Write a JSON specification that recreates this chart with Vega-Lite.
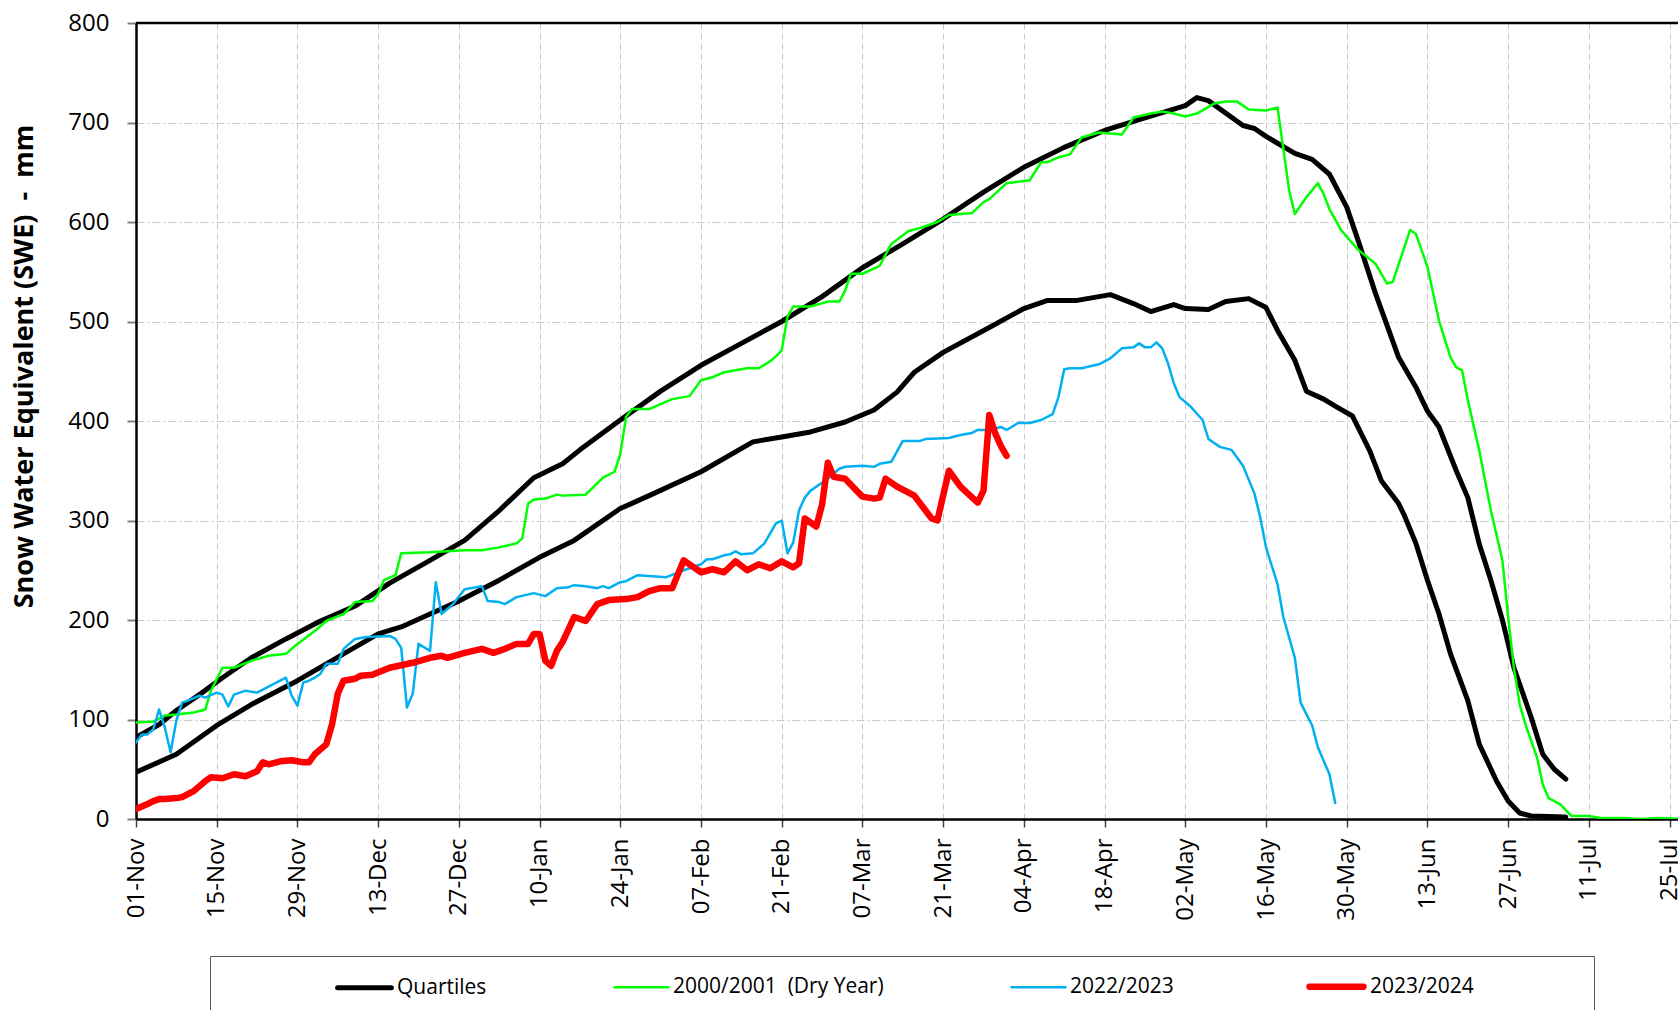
{
"$schema": "https://vega.github.io/schema/vega-lite/v6.json",
"width": 1542, "height": 796,
"autosize": {"type": "none"},
"padding": {"left": 136, "top": 23, "right": 0, "bottom": 191},
"background": "white",
"config": {"view": {"stroke": null}, "font": "Open Sans"},
"layer": [
{
"data": {"values": [
{"date":"2022-11-01","swe":82,"series":"Quartiles","line":"Upper quartile"},
{"date":"2022-11-05","swe":95,"series":"Quartiles","line":"Upper quartile"},
{"date":"2022-11-08","swe":109,"series":"Quartiles","line":"Upper quartile"},
{"date":"2022-11-12","swe":125,"series":"Quartiles","line":"Upper quartile"},
{"date":"2022-11-16","swe":142,"series":"Quartiles","line":"Upper quartile"},
{"date":"2022-11-21","swe":162,"series":"Quartiles","line":"Upper quartile"},
{"date":"2022-11-27","swe":181,"series":"Quartiles","line":"Upper quartile"},
{"date":"2022-12-03","swe":199,"series":"Quartiles","line":"Upper quartile"},
{"date":"2022-12-09","swe":214,"series":"Quartiles","line":"Upper quartile"},
{"date":"2022-12-15","swe":237,"series":"Quartiles","line":"Upper quartile"},
{"date":"2022-12-22","swe":260,"series":"Quartiles","line":"Upper quartile"},
{"date":"2022-12-28","swe":280,"series":"Quartiles","line":"Upper quartile"},
{"date":"2023-01-03","swe":310,"series":"Quartiles","line":"Upper quartile"},
{"date":"2023-01-09","swe":343,"series":"Quartiles","line":"Upper quartile"},
{"date":"2023-01-14","swe":357,"series":"Quartiles","line":"Upper quartile"},
{"date":"2023-01-17","swe":371,"series":"Quartiles","line":"Upper quartile"},
{"date":"2023-01-24","swe":401,"series":"Quartiles","line":"Upper quartile"},
{"date":"2023-01-31","swe":430,"series":"Quartiles","line":"Upper quartile"},
{"date":"2023-02-07","swe":456,"series":"Quartiles","line":"Upper quartile"},
{"date":"2023-02-14","swe":478,"series":"Quartiles","line":"Upper quartile"},
{"date":"2023-02-21","swe":500,"series":"Quartiles","line":"Upper quartile"},
{"date":"2023-02-28","swe":525,"series":"Quartiles","line":"Upper quartile"},
{"date":"2023-03-07","swe":554,"series":"Quartiles","line":"Upper quartile"},
{"date":"2023-03-14","swe":578,"series":"Quartiles","line":"Upper quartile"},
{"date":"2023-03-21","swe":603,"series":"Quartiles","line":"Upper quartile"},
{"date":"2023-03-28","swe":630,"series":"Quartiles","line":"Upper quartile"},
{"date":"2023-04-04","swe":655,"series":"Quartiles","line":"Upper quartile"},
{"date":"2023-04-11","swe":675,"series":"Quartiles","line":"Upper quartile"},
{"date":"2023-04-18","swe":692,"series":"Quartiles","line":"Upper quartile"},
{"date":"2023-04-24","swe":703,"series":"Quartiles","line":"Upper quartile"},
{"date":"2023-05-02","swe":717,"series":"Quartiles","line":"Upper quartile"},
{"date":"2023-05-04","swe":725,"series":"Quartiles","line":"Upper quartile"},
{"date":"2023-05-06","swe":722,"series":"Quartiles","line":"Upper quartile"},
{"date":"2023-05-12","swe":697,"series":"Quartiles","line":"Upper quartile"},
{"date":"2023-05-14","swe":694,"series":"Quartiles","line":"Upper quartile"},
{"date":"2023-05-16","swe":686,"series":"Quartiles","line":"Upper quartile"},
{"date":"2023-05-21","swe":669,"series":"Quartiles","line":"Upper quartile"},
{"date":"2023-05-24","swe":663,"series":"Quartiles","line":"Upper quartile"},
{"date":"2023-05-27","swe":648,"series":"Quartiles","line":"Upper quartile"},
{"date":"2023-05-30","swe":615,"series":"Quartiles","line":"Upper quartile"},
{"date":"2023-06-01","swe":581,"series":"Quartiles","line":"Upper quartile"},
{"date":"2023-06-04","swe":528,"series":"Quartiles","line":"Upper quartile"},
{"date":"2023-06-08","swe":464,"series":"Quartiles","line":"Upper quartile"},
{"date":"2023-06-11","swe":434,"series":"Quartiles","line":"Upper quartile"},
{"date":"2023-06-13","swe":410,"series":"Quartiles","line":"Upper quartile"},
{"date":"2023-06-15","swe":394,"series":"Quartiles","line":"Upper quartile"},
{"date":"2023-06-18","swe":350,"series":"Quartiles","line":"Upper quartile"},
{"date":"2023-06-20","swe":323,"series":"Quartiles","line":"Upper quartile"},
{"date":"2023-06-22","swe":276,"series":"Quartiles","line":"Upper quartile"},
{"date":"2023-06-24","swe":240,"series":"Quartiles","line":"Upper quartile"},
{"date":"2023-06-26","swe":200,"series":"Quartiles","line":"Upper quartile"},
{"date":"2023-06-28","swe":152,"series":"Quartiles","line":"Upper quartile"},
{"date":"2023-07-01","swe":102,"series":"Quartiles","line":"Upper quartile"},
{"date":"2023-07-03","swe":65,"series":"Quartiles","line":"Upper quartile"},
{"date":"2023-07-05","swe":50,"series":"Quartiles","line":"Upper quartile"},
{"date":"2023-07-07","swe":40,"series":"Quartiles","line":"Upper quartile"},
{"date":"2022-11-01","swe":47,"series":"Quartiles","line":"Lower quartile"},
{"date":"2022-11-08","swe":65,"series":"Quartiles","line":"Lower quartile"},
{"date":"2022-11-15","swe":94,"series":"Quartiles","line":"Lower quartile"},
{"date":"2022-11-21","swe":115,"series":"Quartiles","line":"Lower quartile"},
{"date":"2022-11-29","swe":139,"series":"Quartiles","line":"Lower quartile"},
{"date":"2022-12-07","swe":166,"series":"Quartiles","line":"Lower quartile"},
{"date":"2022-12-13","swe":186,"series":"Quartiles","line":"Lower quartile"},
{"date":"2022-12-17","swe":193,"series":"Quartiles","line":"Lower quartile"},
{"date":"2022-12-22","swe":206,"series":"Quartiles","line":"Lower quartile"},
{"date":"2022-12-27","swe":219,"series":"Quartiles","line":"Lower quartile"},
{"date":"2023-01-03","swe":240,"series":"Quartiles","line":"Lower quartile"},
{"date":"2023-01-10","swe":263,"series":"Quartiles","line":"Lower quartile"},
{"date":"2023-01-16","swe":280,"series":"Quartiles","line":"Lower quartile"},
{"date":"2023-01-24","swe":312,"series":"Quartiles","line":"Lower quartile"},
{"date":"2023-01-29","swe":325,"series":"Quartiles","line":"Lower quartile"},
{"date":"2023-02-07","swe":349,"series":"Quartiles","line":"Lower quartile"},
{"date":"2023-02-16","swe":379,"series":"Quartiles","line":"Lower quartile"},
{"date":"2023-02-21","swe":384,"series":"Quartiles","line":"Lower quartile"},
{"date":"2023-02-26","swe":389,"series":"Quartiles","line":"Lower quartile"},
{"date":"2023-03-04","swe":399,"series":"Quartiles","line":"Lower quartile"},
{"date":"2023-03-09","swe":411,"series":"Quartiles","line":"Lower quartile"},
{"date":"2023-03-13","swe":429,"series":"Quartiles","line":"Lower quartile"},
{"date":"2023-03-16","swe":449,"series":"Quartiles","line":"Lower quartile"},
{"date":"2023-03-21","swe":469,"series":"Quartiles","line":"Lower quartile"},
{"date":"2023-03-29","swe":494,"series":"Quartiles","line":"Lower quartile"},
{"date":"2023-04-04","swe":513,"series":"Quartiles","line":"Lower quartile"},
{"date":"2023-04-08","swe":521,"series":"Quartiles","line":"Lower quartile"},
{"date":"2023-04-13","swe":521,"series":"Quartiles","line":"Lower quartile"},
{"date":"2023-04-17","swe":525,"series":"Quartiles","line":"Lower quartile"},
{"date":"2023-04-19","swe":527,"series":"Quartiles","line":"Lower quartile"},
{"date":"2023-04-23","swe":518,"series":"Quartiles","line":"Lower quartile"},
{"date":"2023-04-26","swe":510,"series":"Quartiles","line":"Lower quartile"},
{"date":"2023-04-30","swe":517,"series":"Quartiles","line":"Lower quartile"},
{"date":"2023-05-02","swe":513,"series":"Quartiles","line":"Lower quartile"},
{"date":"2023-05-06","swe":512,"series":"Quartiles","line":"Lower quartile"},
{"date":"2023-05-09","swe":520,"series":"Quartiles","line":"Lower quartile"},
{"date":"2023-05-13","swe":523,"series":"Quartiles","line":"Lower quartile"},
{"date":"2023-05-16","swe":514,"series":"Quartiles","line":"Lower quartile"},
{"date":"2023-05-18","swe":491,"series":"Quartiles","line":"Lower quartile"},
{"date":"2023-05-21","swe":461,"series":"Quartiles","line":"Lower quartile"},
{"date":"2023-05-23","swe":430,"series":"Quartiles","line":"Lower quartile"},
{"date":"2023-05-26","swe":422,"series":"Quartiles","line":"Lower quartile"},
{"date":"2023-05-28","swe":415,"series":"Quartiles","line":"Lower quartile"},
{"date":"2023-05-31","swe":405,"series":"Quartiles","line":"Lower quartile"},
{"date":"2023-06-03","swe":370,"series":"Quartiles","line":"Lower quartile"},
{"date":"2023-06-05","swe":340,"series":"Quartiles","line":"Lower quartile"},
{"date":"2023-06-08","swe":317,"series":"Quartiles","line":"Lower quartile"},
{"date":"2023-06-09","swe":305,"series":"Quartiles","line":"Lower quartile"},
{"date":"2023-06-11","swe":277,"series":"Quartiles","line":"Lower quartile"},
{"date":"2023-06-13","swe":240,"series":"Quartiles","line":"Lower quartile"},
{"date":"2023-06-15","swe":206,"series":"Quartiles","line":"Lower quartile"},
{"date":"2023-06-17","swe":166,"series":"Quartiles","line":"Lower quartile"},
{"date":"2023-06-20","swe":119,"series":"Quartiles","line":"Lower quartile"},
{"date":"2023-06-22","swe":75,"series":"Quartiles","line":"Lower quartile"},
{"date":"2023-06-25","swe":38,"series":"Quartiles","line":"Lower quartile"},
{"date":"2023-06-27","swe":18,"series":"Quartiles","line":"Lower quartile"},
{"date":"2023-06-29","swe":6,"series":"Quartiles","line":"Lower quartile"},
{"date":"2023-07-01","swe":3,"series":"Quartiles","line":"Lower quartile"},
{"date":"2023-07-07","swe":2,"series":"Quartiles","line":"Lower quartile"},
{"date":"2022-11-01","swe":97,"series":"2000/2001\u00a0 (Dry Year)","line":"2000/2001"},
{"date":"2022-11-04","swe":98,"series":"2000/2001\u00a0 (Dry Year)","line":"2000/2001"},
{"date":"2022-11-06","swe":104,"series":"2000/2001\u00a0 (Dry Year)","line":"2000/2001"},
{"date":"2022-11-08","swe":105,"series":"2000/2001\u00a0 (Dry Year)","line":"2000/2001"},
{"date":"2022-11-11","swe":107,"series":"2000/2001\u00a0 (Dry Year)","line":"2000/2001"},
{"date":"2022-11-13","swe":110,"series":"2000/2001\u00a0 (Dry Year)","line":"2000/2001"},
{"date":"2022-11-14","swe":129,"series":"2000/2001\u00a0 (Dry Year)","line":"2000/2001"},
{"date":"2022-11-16","swe":152,"series":"2000/2001\u00a0 (Dry Year)","line":"2000/2001"},
{"date":"2022-11-18","swe":152,"series":"2000/2001\u00a0 (Dry Year)","line":"2000/2001"},
{"date":"2022-11-21","swe":159,"series":"2000/2001\u00a0 (Dry Year)","line":"2000/2001"},
{"date":"2022-11-24","swe":164,"series":"2000/2001\u00a0 (Dry Year)","line":"2000/2001"},
{"date":"2022-11-27","swe":166,"series":"2000/2001\u00a0 (Dry Year)","line":"2000/2001"},
{"date":"2022-11-29","swe":176,"series":"2000/2001\u00a0 (Dry Year)","line":"2000/2001"},
{"date":"2022-12-02","swe":189,"series":"2000/2001\u00a0 (Dry Year)","line":"2000/2001"},
{"date":"2022-12-04","swe":199,"series":"2000/2001\u00a0 (Dry Year)","line":"2000/2001"},
{"date":"2022-12-07","swe":206,"series":"2000/2001\u00a0 (Dry Year)","line":"2000/2001"},
{"date":"2022-12-09","swe":218,"series":"2000/2001\u00a0 (Dry Year)","line":"2000/2001"},
{"date":"2022-12-12","swe":219,"series":"2000/2001\u00a0 (Dry Year)","line":"2000/2001"},
{"date":"2022-12-13","swe":226,"series":"2000/2001\u00a0 (Dry Year)","line":"2000/2001"},
{"date":"2022-12-14","swe":240,"series":"2000/2001\u00a0 (Dry Year)","line":"2000/2001"},
{"date":"2022-12-16","swe":245,"series":"2000/2001\u00a0 (Dry Year)","line":"2000/2001"},
{"date":"2022-12-17","swe":267,"series":"2000/2001\u00a0 (Dry Year)","line":"2000/2001"},
{"date":"2022-12-22","swe":268,"series":"2000/2001\u00a0 (Dry Year)","line":"2000/2001"},
{"date":"2022-12-28","swe":270,"series":"2000/2001\u00a0 (Dry Year)","line":"2000/2001"},
{"date":"2022-12-31","swe":270,"series":"2000/2001\u00a0 (Dry Year)","line":"2000/2001"},
{"date":"2023-01-03","swe":273,"series":"2000/2001\u00a0 (Dry Year)","line":"2000/2001"},
{"date":"2023-01-06","swe":277,"series":"2000/2001\u00a0 (Dry Year)","line":"2000/2001"},
{"date":"2023-01-07","swe":282,"series":"2000/2001\u00a0 (Dry Year)","line":"2000/2001"},
{"date":"2023-01-08","swe":317,"series":"2000/2001\u00a0 (Dry Year)","line":"2000/2001"},
{"date":"2023-01-09","swe":321,"series":"2000/2001\u00a0 (Dry Year)","line":"2000/2001"},
{"date":"2023-01-11","swe":322,"series":"2000/2001\u00a0 (Dry Year)","line":"2000/2001"},
{"date":"2023-01-13","swe":326,"series":"2000/2001\u00a0 (Dry Year)","line":"2000/2001"},
{"date":"2023-01-14","swe":325,"series":"2000/2001\u00a0 (Dry Year)","line":"2000/2001"},
{"date":"2023-01-18","swe":326,"series":"2000/2001\u00a0 (Dry Year)","line":"2000/2001"},
{"date":"2023-01-21","swe":343,"series":"2000/2001\u00a0 (Dry Year)","line":"2000/2001"},
{"date":"2023-01-23","swe":349,"series":"2000/2001\u00a0 (Dry Year)","line":"2000/2001"},
{"date":"2023-01-24","swe":367,"series":"2000/2001\u00a0 (Dry Year)","line":"2000/2001"},
{"date":"2023-01-25","swe":404,"series":"2000/2001\u00a0 (Dry Year)","line":"2000/2001"},
{"date":"2023-01-26","swe":412,"series":"2000/2001\u00a0 (Dry Year)","line":"2000/2001"},
{"date":"2023-01-29","swe":412,"series":"2000/2001\u00a0 (Dry Year)","line":"2000/2001"},
{"date":"2023-02-02","swe":422,"series":"2000/2001\u00a0 (Dry Year)","line":"2000/2001"},
{"date":"2023-02-05","swe":425,"series":"2000/2001\u00a0 (Dry Year)","line":"2000/2001"},
{"date":"2023-02-07","swe":441,"series":"2000/2001\u00a0 (Dry Year)","line":"2000/2001"},
{"date":"2023-02-09","swe":444,"series":"2000/2001\u00a0 (Dry Year)","line":"2000/2001"},
{"date":"2023-02-11","swe":449,"series":"2000/2001\u00a0 (Dry Year)","line":"2000/2001"},
{"date":"2023-02-15","swe":453,"series":"2000/2001\u00a0 (Dry Year)","line":"2000/2001"},
{"date":"2023-02-17","swe":453,"series":"2000/2001\u00a0 (Dry Year)","line":"2000/2001"},
{"date":"2023-02-19","swe":460,"series":"2000/2001\u00a0 (Dry Year)","line":"2000/2001"},
{"date":"2023-02-20","swe":465,"series":"2000/2001\u00a0 (Dry Year)","line":"2000/2001"},
{"date":"2023-02-21","swe":471,"series":"2000/2001\u00a0 (Dry Year)","line":"2000/2001"},
{"date":"2023-02-22","swe":505,"series":"2000/2001\u00a0 (Dry Year)","line":"2000/2001"},
{"date":"2023-02-23","swe":515,"series":"2000/2001\u00a0 (Dry Year)","line":"2000/2001"},
{"date":"2023-02-26","swe":515,"series":"2000/2001\u00a0 (Dry Year)","line":"2000/2001"},
{"date":"2023-03-01","swe":520,"series":"2000/2001\u00a0 (Dry Year)","line":"2000/2001"},
{"date":"2023-03-03","swe":520,"series":"2000/2001\u00a0 (Dry Year)","line":"2000/2001"},
{"date":"2023-03-04","swe":531,"series":"2000/2001\u00a0 (Dry Year)","line":"2000/2001"},
{"date":"2023-03-05","swe":548,"series":"2000/2001\u00a0 (Dry Year)","line":"2000/2001"},
{"date":"2023-03-07","swe":548,"series":"2000/2001\u00a0 (Dry Year)","line":"2000/2001"},
{"date":"2023-03-10","swe":556,"series":"2000/2001\u00a0 (Dry Year)","line":"2000/2001"},
{"date":"2023-03-12","swe":578,"series":"2000/2001\u00a0 (Dry Year)","line":"2000/2001"},
{"date":"2023-03-15","swe":591,"series":"2000/2001\u00a0 (Dry Year)","line":"2000/2001"},
{"date":"2023-03-17","swe":594,"series":"2000/2001\u00a0 (Dry Year)","line":"2000/2001"},
{"date":"2023-03-20","swe":600,"series":"2000/2001\u00a0 (Dry Year)","line":"2000/2001"},
{"date":"2023-03-22","swe":607,"series":"2000/2001\u00a0 (Dry Year)","line":"2000/2001"},
{"date":"2023-03-26","swe":609,"series":"2000/2001\u00a0 (Dry Year)","line":"2000/2001"},
{"date":"2023-03-28","swe":620,"series":"2000/2001\u00a0 (Dry Year)","line":"2000/2001"},
{"date":"2023-03-29","swe":623,"series":"2000/2001\u00a0 (Dry Year)","line":"2000/2001"},
{"date":"2023-04-01","swe":639,"series":"2000/2001\u00a0 (Dry Year)","line":"2000/2001"},
{"date":"2023-04-05","swe":642,"series":"2000/2001\u00a0 (Dry Year)","line":"2000/2001"},
{"date":"2023-04-07","swe":660,"series":"2000/2001\u00a0 (Dry Year)","line":"2000/2001"},
{"date":"2023-04-08","swe":660,"series":"2000/2001\u00a0 (Dry Year)","line":"2000/2001"},
{"date":"2023-04-10","swe":665,"series":"2000/2001\u00a0 (Dry Year)","line":"2000/2001"},
{"date":"2023-04-12","swe":668,"series":"2000/2001\u00a0 (Dry Year)","line":"2000/2001"},
{"date":"2023-04-14","swe":685,"series":"2000/2001\u00a0 (Dry Year)","line":"2000/2001"},
{"date":"2023-04-17","swe":690,"series":"2000/2001\u00a0 (Dry Year)","line":"2000/2001"},
{"date":"2023-04-21","swe":688,"series":"2000/2001\u00a0 (Dry Year)","line":"2000/2001"},
{"date":"2023-04-23","swe":705,"series":"2000/2001\u00a0 (Dry Year)","line":"2000/2001"},
{"date":"2023-04-26","swe":709,"series":"2000/2001\u00a0 (Dry Year)","line":"2000/2001"},
{"date":"2023-04-28","swe":711,"series":"2000/2001\u00a0 (Dry Year)","line":"2000/2001"},
{"date":"2023-04-30","swe":709,"series":"2000/2001\u00a0 (Dry Year)","line":"2000/2001"},
{"date":"2023-05-02","swe":706,"series":"2000/2001\u00a0 (Dry Year)","line":"2000/2001"},
{"date":"2023-05-04","swe":709,"series":"2000/2001\u00a0 (Dry Year)","line":"2000/2001"},
{"date":"2023-05-07","swe":719,"series":"2000/2001\u00a0 (Dry Year)","line":"2000/2001"},
{"date":"2023-05-09","swe":721,"series":"2000/2001\u00a0 (Dry Year)","line":"2000/2001"},
{"date":"2023-05-11","swe":721,"series":"2000/2001\u00a0 (Dry Year)","line":"2000/2001"},
{"date":"2023-05-13","swe":713,"series":"2000/2001\u00a0 (Dry Year)","line":"2000/2001"},
{"date":"2023-05-16","swe":712,"series":"2000/2001\u00a0 (Dry Year)","line":"2000/2001"},
{"date":"2023-05-18","swe":715,"series":"2000/2001\u00a0 (Dry Year)","line":"2000/2001"},
{"date":"2023-05-20","swe":632,"series":"2000/2001\u00a0 (Dry Year)","line":"2000/2001"},
{"date":"2023-05-21","swe":608,"series":"2000/2001\u00a0 (Dry Year)","line":"2000/2001"},
{"date":"2023-05-23","swe":625,"series":"2000/2001\u00a0 (Dry Year)","line":"2000/2001"},
{"date":"2023-05-25","swe":639,"series":"2000/2001\u00a0 (Dry Year)","line":"2000/2001"},
{"date":"2023-05-26","swe":628,"series":"2000/2001\u00a0 (Dry Year)","line":"2000/2001"},
{"date":"2023-05-27","swe":613,"series":"2000/2001\u00a0 (Dry Year)","line":"2000/2001"},
{"date":"2023-05-29","swe":592,"series":"2000/2001\u00a0 (Dry Year)","line":"2000/2001"},
{"date":"2023-06-01","swe":572,"series":"2000/2001\u00a0 (Dry Year)","line":"2000/2001"},
{"date":"2023-06-04","swe":558,"series":"2000/2001\u00a0 (Dry Year)","line":"2000/2001"},
{"date":"2023-06-06","swe":538,"series":"2000/2001\u00a0 (Dry Year)","line":"2000/2001"},
{"date":"2023-06-07","swe":540,"series":"2000/2001\u00a0 (Dry Year)","line":"2000/2001"},
{"date":"2023-06-10","swe":592,"series":"2000/2001\u00a0 (Dry Year)","line":"2000/2001"},
{"date":"2023-06-11","swe":588,"series":"2000/2001\u00a0 (Dry Year)","line":"2000/2001"},
{"date":"2023-06-13","swe":555,"series":"2000/2001\u00a0 (Dry Year)","line":"2000/2001"},
{"date":"2023-06-15","swe":501,"series":"2000/2001\u00a0 (Dry Year)","line":"2000/2001"},
{"date":"2023-06-17","swe":464,"series":"2000/2001\u00a0 (Dry Year)","line":"2000/2001"},
{"date":"2023-06-18","swe":454,"series":"2000/2001\u00a0 (Dry Year)","line":"2000/2001"},
{"date":"2023-06-19","swe":451,"series":"2000/2001\u00a0 (Dry Year)","line":"2000/2001"},
{"date":"2023-06-20","swe":421,"series":"2000/2001\u00a0 (Dry Year)","line":"2000/2001"},
{"date":"2023-06-22","swe":370,"series":"2000/2001\u00a0 (Dry Year)","line":"2000/2001"},
{"date":"2023-06-24","swe":310,"series":"2000/2001\u00a0 (Dry Year)","line":"2000/2001"},
{"date":"2023-06-26","swe":260,"series":"2000/2001\u00a0 (Dry Year)","line":"2000/2001"},
{"date":"2023-06-27","swe":203,"series":"2000/2001\u00a0 (Dry Year)","line":"2000/2001"},
{"date":"2023-06-28","swe":152,"series":"2000/2001\u00a0 (Dry Year)","line":"2000/2001"},
{"date":"2023-06-29","swe":115,"series":"2000/2001\u00a0 (Dry Year)","line":"2000/2001"},
{"date":"2023-06-30","swe":95,"series":"2000/2001\u00a0 (Dry Year)","line":"2000/2001"},
{"date":"2023-07-02","swe":62,"series":"2000/2001\u00a0 (Dry Year)","line":"2000/2001"},
{"date":"2023-07-03","swe":35,"series":"2000/2001\u00a0 (Dry Year)","line":"2000/2001"},
{"date":"2023-07-04","swe":21,"series":"2000/2001\u00a0 (Dry Year)","line":"2000/2001"},
{"date":"2023-07-06","swe":15,"series":"2000/2001\u00a0 (Dry Year)","line":"2000/2001"},
{"date":"2023-07-08","swe":3,"series":"2000/2001\u00a0 (Dry Year)","line":"2000/2001"},
{"date":"2023-07-11","swe":3,"series":"2000/2001\u00a0 (Dry Year)","line":"2000/2001"},
{"date":"2023-07-13","swe":1,"series":"2000/2001\u00a0 (Dry Year)","line":"2000/2001"},
{"date":"2023-07-17","swe":1,"series":"2000/2001\u00a0 (Dry Year)","line":"2000/2001"},
{"date":"2023-07-20","swe":0,"series":"2000/2001\u00a0 (Dry Year)","line":"2000/2001"},
{"date":"2023-07-23","swe":1,"series":"2000/2001\u00a0 (Dry Year)","line":"2000/2001"},
{"date":"2023-07-27","swe":0,"series":"2000/2001\u00a0 (Dry Year)","line":"2000/2001"},
{"date":"2022-11-01","swe":77,"series":"2022/2023","line":"2022/2023"},
{"date":"2022-11-02","swe":85,"series":"2022/2023","line":"2022/2023"},
{"date":"2022-11-03","swe":85,"series":"2022/2023","line":"2022/2023"},
{"date":"2022-11-04","swe":90,"series":"2022/2023","line":"2022/2023"},
{"date":"2022-11-05","swe":110,"series":"2022/2023","line":"2022/2023"},
{"date":"2022-11-06","swe":92,"series":"2022/2023","line":"2022/2023"},
{"date":"2022-11-07","swe":67,"series":"2022/2023","line":"2022/2023"},
{"date":"2022-11-08","swe":99,"series":"2022/2023","line":"2022/2023"},
{"date":"2022-11-09","swe":117,"series":"2022/2023","line":"2022/2023"},
{"date":"2022-11-10","swe":119,"series":"2022/2023","line":"2022/2023"},
{"date":"2022-11-12","swe":124,"series":"2022/2023","line":"2022/2023"},
{"date":"2022-11-13","swe":122,"series":"2022/2023","line":"2022/2023"},
{"date":"2022-11-15","swe":127,"series":"2022/2023","line":"2022/2023"},
{"date":"2022-11-16","swe":125,"series":"2022/2023","line":"2022/2023"},
{"date":"2022-11-17","swe":113,"series":"2022/2023","line":"2022/2023"},
{"date":"2022-11-18","swe":125,"series":"2022/2023","line":"2022/2023"},
{"date":"2022-11-20","swe":129,"series":"2022/2023","line":"2022/2023"},
{"date":"2022-11-22","swe":127,"series":"2022/2023","line":"2022/2023"},
{"date":"2022-11-23","swe":130,"series":"2022/2023","line":"2022/2023"},
{"date":"2022-11-25","swe":136,"series":"2022/2023","line":"2022/2023"},
{"date":"2022-11-27","swe":142,"series":"2022/2023","line":"2022/2023"},
{"date":"2022-11-28","swe":124,"series":"2022/2023","line":"2022/2023"},
{"date":"2022-11-29","swe":114,"series":"2022/2023","line":"2022/2023"},
{"date":"2022-11-30","swe":137,"series":"2022/2023","line":"2022/2023"},
{"date":"2022-12-01","swe":139,"series":"2022/2023","line":"2022/2023"},
{"date":"2022-12-02","swe":142,"series":"2022/2023","line":"2022/2023"},
{"date":"2022-12-03","swe":146,"series":"2022/2023","line":"2022/2023"},
{"date":"2022-12-04","swe":156,"series":"2022/2023","line":"2022/2023"},
{"date":"2022-12-06","swe":156,"series":"2022/2023","line":"2022/2023"},
{"date":"2022-12-07","swe":171,"series":"2022/2023","line":"2022/2023"},
{"date":"2022-12-09","swe":181,"series":"2022/2023","line":"2022/2023"},
{"date":"2022-12-11","swe":183,"series":"2022/2023","line":"2022/2023"},
{"date":"2022-12-15","swe":184,"series":"2022/2023","line":"2022/2023"},
{"date":"2022-12-16","swe":181,"series":"2022/2023","line":"2022/2023"},
{"date":"2022-12-17","swe":172,"series":"2022/2023","line":"2022/2023"},
{"date":"2022-12-18","swe":112,"series":"2022/2023","line":"2022/2023"},
{"date":"2022-12-19","swe":126,"series":"2022/2023","line":"2022/2023"},
{"date":"2022-12-20","swe":176,"series":"2022/2023","line":"2022/2023"},
{"date":"2022-12-22","swe":169,"series":"2022/2023","line":"2022/2023"},
{"date":"2022-12-23","swe":238,"series":"2022/2023","line":"2022/2023"},
{"date":"2022-12-24","swe":206,"series":"2022/2023","line":"2022/2023"},
{"date":"2022-12-26","swe":216,"series":"2022/2023","line":"2022/2023"},
{"date":"2022-12-28","swe":231,"series":"2022/2023","line":"2022/2023"},
{"date":"2022-12-31","swe":234,"series":"2022/2023","line":"2022/2023"},
{"date":"2023-01-01","swe":219,"series":"2022/2023","line":"2022/2023"},
{"date":"2023-01-03","swe":218,"series":"2022/2023","line":"2022/2023"},
{"date":"2023-01-04","swe":216,"series":"2022/2023","line":"2022/2023"},
{"date":"2023-01-06","swe":223,"series":"2022/2023","line":"2022/2023"},
{"date":"2023-01-09","swe":227,"series":"2022/2023","line":"2022/2023"},
{"date":"2023-01-11","swe":224,"series":"2022/2023","line":"2022/2023"},
{"date":"2023-01-13","swe":232,"series":"2022/2023","line":"2022/2023"},
{"date":"2023-01-15","swe":233,"series":"2022/2023","line":"2022/2023"},
{"date":"2023-01-16","swe":235,"series":"2022/2023","line":"2022/2023"},
{"date":"2023-01-18","swe":234,"series":"2022/2023","line":"2022/2023"},
{"date":"2023-01-20","swe":232,"series":"2022/2023","line":"2022/2023"},
{"date":"2023-01-21","swe":234,"series":"2022/2023","line":"2022/2023"},
{"date":"2023-01-22","swe":232,"series":"2022/2023","line":"2022/2023"},
{"date":"2023-01-24","swe":238,"series":"2022/2023","line":"2022/2023"},
{"date":"2023-01-25","swe":239,"series":"2022/2023","line":"2022/2023"},
{"date":"2023-01-27","swe":245,"series":"2022/2023","line":"2022/2023"},
{"date":"2023-02-01","swe":243,"series":"2022/2023","line":"2022/2023"},
{"date":"2023-02-04","swe":250,"series":"2022/2023","line":"2022/2023"},
{"date":"2023-02-07","swe":256,"series":"2022/2023","line":"2022/2023"},
{"date":"2023-02-08","swe":261,"series":"2022/2023","line":"2022/2023"},
{"date":"2023-02-09","swe":261,"series":"2022/2023","line":"2022/2023"},
{"date":"2023-02-11","swe":265,"series":"2022/2023","line":"2022/2023"},
{"date":"2023-02-12","swe":266,"series":"2022/2023","line":"2022/2023"},
{"date":"2023-02-13","swe":269,"series":"2022/2023","line":"2022/2023"},
{"date":"2023-02-14","swe":266,"series":"2022/2023","line":"2022/2023"},
{"date":"2023-02-16","swe":267,"series":"2022/2023","line":"2022/2023"},
{"date":"2023-02-18","swe":277,"series":"2022/2023","line":"2022/2023"},
{"date":"2023-02-19","swe":287,"series":"2022/2023","line":"2022/2023"},
{"date":"2023-02-20","swe":297,"series":"2022/2023","line":"2022/2023"},
{"date":"2023-02-21","swe":300,"series":"2022/2023","line":"2022/2023"},
{"date":"2023-02-22","swe":267,"series":"2022/2023","line":"2022/2023"},
{"date":"2023-02-23","swe":278,"series":"2022/2023","line":"2022/2023"},
{"date":"2023-02-24","swe":310,"series":"2022/2023","line":"2022/2023"},
{"date":"2023-02-25","swe":323,"series":"2022/2023","line":"2022/2023"},
{"date":"2023-02-26","swe":330,"series":"2022/2023","line":"2022/2023"},
{"date":"2023-02-28","swe":338,"series":"2022/2023","line":"2022/2023"},
{"date":"2023-03-01","swe":342,"series":"2022/2023","line":"2022/2023"},
{"date":"2023-03-03","swe":352,"series":"2022/2023","line":"2022/2023"},
{"date":"2023-03-04","swe":354,"series":"2022/2023","line":"2022/2023"},
{"date":"2023-03-07","swe":355,"series":"2022/2023","line":"2022/2023"},
{"date":"2023-03-09","swe":354,"series":"2022/2023","line":"2022/2023"},
{"date":"2023-03-10","swe":357,"series":"2022/2023","line":"2022/2023"},
{"date":"2023-03-12","swe":359,"series":"2022/2023","line":"2022/2023"},
{"date":"2023-03-14","swe":380,"series":"2022/2023","line":"2022/2023"},
{"date":"2023-03-17","swe":380,"series":"2022/2023","line":"2022/2023"},
{"date":"2023-03-18","swe":382,"series":"2022/2023","line":"2022/2023"},
{"date":"2023-03-22","swe":383,"series":"2022/2023","line":"2022/2023"},
{"date":"2023-03-24","swe":386,"series":"2022/2023","line":"2022/2023"},
{"date":"2023-03-26","swe":388,"series":"2022/2023","line":"2022/2023"},
{"date":"2023-03-27","swe":391,"series":"2022/2023","line":"2022/2023"},
{"date":"2023-03-29","swe":391,"series":"2022/2023","line":"2022/2023"},
{"date":"2023-03-31","swe":394,"series":"2022/2023","line":"2022/2023"},
{"date":"2023-04-01","swe":391,"series":"2022/2023","line":"2022/2023"},
{"date":"2023-04-03","swe":398,"series":"2022/2023","line":"2022/2023"},
{"date":"2023-04-05","swe":398,"series":"2022/2023","line":"2022/2023"},
{"date":"2023-04-07","swe":401,"series":"2022/2023","line":"2022/2023"},
{"date":"2023-04-09","swe":407,"series":"2022/2023","line":"2022/2023"},
{"date":"2023-04-10","swe":424,"series":"2022/2023","line":"2022/2023"},
{"date":"2023-04-11","swe":452,"series":"2022/2023","line":"2022/2023"},
{"date":"2023-04-12","swe":453,"series":"2022/2023","line":"2022/2023"},
{"date":"2023-04-14","swe":453,"series":"2022/2023","line":"2022/2023"},
{"date":"2023-04-17","swe":457,"series":"2022/2023","line":"2022/2023"},
{"date":"2023-04-19","swe":463,"series":"2022/2023","line":"2022/2023"},
{"date":"2023-04-21","swe":473,"series":"2022/2023","line":"2022/2023"},
{"date":"2023-04-23","swe":474,"series":"2022/2023","line":"2022/2023"},
{"date":"2023-04-24","swe":478,"series":"2022/2023","line":"2022/2023"},
{"date":"2023-04-25","swe":474,"series":"2022/2023","line":"2022/2023"},
{"date":"2023-04-26","swe":474,"series":"2022/2023","line":"2022/2023"},
{"date":"2023-04-27","swe":479,"series":"2022/2023","line":"2022/2023"},
{"date":"2023-04-28","swe":473,"series":"2022/2023","line":"2022/2023"},
{"date":"2023-04-29","swe":458,"series":"2022/2023","line":"2022/2023"},
{"date":"2023-04-30","swe":438,"series":"2022/2023","line":"2022/2023"},
{"date":"2023-05-01","swe":424,"series":"2022/2023","line":"2022/2023"},
{"date":"2023-05-03","swe":414,"series":"2022/2023","line":"2022/2023"},
{"date":"2023-05-05","swe":401,"series":"2022/2023","line":"2022/2023"},
{"date":"2023-05-06","swe":382,"series":"2022/2023","line":"2022/2023"},
{"date":"2023-05-08","swe":374,"series":"2022/2023","line":"2022/2023"},
{"date":"2023-05-10","swe":371,"series":"2022/2023","line":"2022/2023"},
{"date":"2023-05-12","swe":355,"series":"2022/2023","line":"2022/2023"},
{"date":"2023-05-14","swe":327,"series":"2022/2023","line":"2022/2023"},
{"date":"2023-05-15","swe":303,"series":"2022/2023","line":"2022/2023"},
{"date":"2023-05-16","swe":273,"series":"2022/2023","line":"2022/2023"},
{"date":"2023-05-18","swe":236,"series":"2022/2023","line":"2022/2023"},
{"date":"2023-05-19","swe":203,"series":"2022/2023","line":"2022/2023"},
{"date":"2023-05-21","swe":162,"series":"2022/2023","line":"2022/2023"},
{"date":"2023-05-22","swe":117,"series":"2022/2023","line":"2022/2023"},
{"date":"2023-05-24","swe":94,"series":"2022/2023","line":"2022/2023"},
{"date":"2023-05-25","swe":72,"series":"2022/2023","line":"2022/2023"},
{"date":"2023-05-27","swe":45,"series":"2022/2023","line":"2022/2023"},
{"date":"2023-05-28","swe":16,"series":"2022/2023","line":"2022/2023"},
{"date":"2022-11-01","swe":10,"series":"2023/2024","line":"2023/2024"},
{"date":"2022-11-03","swe":15,"series":"2023/2024","line":"2023/2024"},
{"date":"2022-11-04","swe":18,"series":"2023/2024","line":"2023/2024"},
{"date":"2022-11-05","swe":20,"series":"2023/2024","line":"2023/2024"},
{"date":"2022-11-06","swe":20,"series":"2023/2024","line":"2023/2024"},
{"date":"2022-11-08","swe":21,"series":"2023/2024","line":"2023/2024"},
{"date":"2022-11-09","swe":22,"series":"2023/2024","line":"2023/2024"},
{"date":"2022-11-11","swe":28,"series":"2023/2024","line":"2023/2024"},
{"date":"2022-11-13","swe":38,"series":"2023/2024","line":"2023/2024"},
{"date":"2022-11-14","swe":42,"series":"2023/2024","line":"2023/2024"},
{"date":"2022-11-16","swe":41,"series":"2023/2024","line":"2023/2024"},
{"date":"2022-11-18","swe":45,"series":"2023/2024","line":"2023/2024"},
{"date":"2022-11-20","swe":43,"series":"2023/2024","line":"2023/2024"},
{"date":"2022-11-22","swe":48,"series":"2023/2024","line":"2023/2024"},
{"date":"2022-11-23","swe":57,"series":"2023/2024","line":"2023/2024"},
{"date":"2022-11-24","swe":55,"series":"2023/2024","line":"2023/2024"},
{"date":"2022-11-26","swe":58,"series":"2023/2024","line":"2023/2024"},
{"date":"2022-11-28","swe":59,"series":"2023/2024","line":"2023/2024"},
{"date":"2022-11-30","swe":57,"series":"2023/2024","line":"2023/2024"},
{"date":"2022-12-01","swe":57,"series":"2023/2024","line":"2023/2024"},
{"date":"2022-12-02","swe":65,"series":"2023/2024","line":"2023/2024"},
{"date":"2022-12-04","swe":75,"series":"2023/2024","line":"2023/2024"},
{"date":"2022-12-05","swe":95,"series":"2023/2024","line":"2023/2024"},
{"date":"2022-12-06","swe":126,"series":"2023/2024","line":"2023/2024"},
{"date":"2022-12-07","swe":139,"series":"2023/2024","line":"2023/2024"},
{"date":"2022-12-09","swe":141,"series":"2023/2024","line":"2023/2024"},
{"date":"2022-12-10","swe":144,"series":"2023/2024","line":"2023/2024"},
{"date":"2022-12-12","swe":145,"series":"2023/2024","line":"2023/2024"},
{"date":"2022-12-15","swe":152,"series":"2023/2024","line":"2023/2024"},
{"date":"2022-12-19","swe":157,"series":"2023/2024","line":"2023/2024"},
{"date":"2022-12-22","swe":162,"series":"2023/2024","line":"2023/2024"},
{"date":"2022-12-24","swe":164,"series":"2023/2024","line":"2023/2024"},
{"date":"2022-12-25","swe":162,"series":"2023/2024","line":"2023/2024"},
{"date":"2022-12-28","swe":167,"series":"2023/2024","line":"2023/2024"},
{"date":"2022-12-31","swe":171,"series":"2023/2024","line":"2023/2024"},
{"date":"2023-01-02","swe":167,"series":"2023/2024","line":"2023/2024"},
{"date":"2023-01-04","swe":171,"series":"2023/2024","line":"2023/2024"},
{"date":"2023-01-06","swe":176,"series":"2023/2024","line":"2023/2024"},
{"date":"2023-01-08","swe":176,"series":"2023/2024","line":"2023/2024"},
{"date":"2023-01-09","swe":186,"series":"2023/2024","line":"2023/2024"},
{"date":"2023-01-10","swe":186,"series":"2023/2024","line":"2023/2024"},
{"date":"2023-01-11","swe":159,"series":"2023/2024","line":"2023/2024"},
{"date":"2023-01-12","swe":154,"series":"2023/2024","line":"2023/2024"},
{"date":"2023-01-13","swe":169,"series":"2023/2024","line":"2023/2024"},
{"date":"2023-01-14","swe":178,"series":"2023/2024","line":"2023/2024"},
{"date":"2023-01-16","swe":203,"series":"2023/2024","line":"2023/2024"},
{"date":"2023-01-18","swe":199,"series":"2023/2024","line":"2023/2024"},
{"date":"2023-01-20","swe":216,"series":"2023/2024","line":"2023/2024"},
{"date":"2023-01-22","swe":220,"series":"2023/2024","line":"2023/2024"},
{"date":"2023-01-25","swe":221,"series":"2023/2024","line":"2023/2024"},
{"date":"2023-01-27","swe":223,"series":"2023/2024","line":"2023/2024"},
{"date":"2023-01-29","swe":229,"series":"2023/2024","line":"2023/2024"},
{"date":"2023-01-31","swe":232,"series":"2023/2024","line":"2023/2024"},
{"date":"2023-02-02","swe":232,"series":"2023/2024","line":"2023/2024"},
{"date":"2023-02-04","swe":260,"series":"2023/2024","line":"2023/2024"},
{"date":"2023-02-07","swe":248,"series":"2023/2024","line":"2023/2024"},
{"date":"2023-02-09","swe":251,"series":"2023/2024","line":"2023/2024"},
{"date":"2023-02-11","swe":248,"series":"2023/2024","line":"2023/2024"},
{"date":"2023-02-13","swe":259,"series":"2023/2024","line":"2023/2024"},
{"date":"2023-02-15","swe":250,"series":"2023/2024","line":"2023/2024"},
{"date":"2023-02-17","swe":256,"series":"2023/2024","line":"2023/2024"},
{"date":"2023-02-19","swe":252,"series":"2023/2024","line":"2023/2024"},
{"date":"2023-02-21","swe":259,"series":"2023/2024","line":"2023/2024"},
{"date":"2023-02-23","swe":253,"series":"2023/2024","line":"2023/2024"},
{"date":"2023-02-24","swe":257,"series":"2023/2024","line":"2023/2024"},
{"date":"2023-02-25","swe":302,"series":"2023/2024","line":"2023/2024"},
{"date":"2023-02-27","swe":294,"series":"2023/2024","line":"2023/2024"},
{"date":"2023-02-28","swe":316,"series":"2023/2024","line":"2023/2024"},
{"date":"2023-03-01","swe":358,"series":"2023/2024","line":"2023/2024"},
{"date":"2023-03-02","swe":344,"series":"2023/2024","line":"2023/2024"},
{"date":"2023-03-04","swe":342,"series":"2023/2024","line":"2023/2024"},
{"date":"2023-03-06","swe":330,"series":"2023/2024","line":"2023/2024"},
{"date":"2023-03-07","swe":324,"series":"2023/2024","line":"2023/2024"},
{"date":"2023-03-09","swe":322,"series":"2023/2024","line":"2023/2024"},
{"date":"2023-03-10","swe":323,"series":"2023/2024","line":"2023/2024"},
{"date":"2023-03-11","swe":342,"series":"2023/2024","line":"2023/2024"},
{"date":"2023-03-13","swe":334,"series":"2023/2024","line":"2023/2024"},
{"date":"2023-03-16","swe":325,"series":"2023/2024","line":"2023/2024"},
{"date":"2023-03-19","swe":302,"series":"2023/2024","line":"2023/2024"},
{"date":"2023-03-20","swe":300,"series":"2023/2024","line":"2023/2024"},
{"date":"2023-03-22","swe":350,"series":"2023/2024","line":"2023/2024"},
{"date":"2023-03-24","swe":334,"series":"2023/2024","line":"2023/2024"},
{"date":"2023-03-27","swe":318,"series":"2023/2024","line":"2023/2024"},
{"date":"2023-03-28","swe":330,"series":"2023/2024","line":"2023/2024"},
{"date":"2023-03-29","swe":406,"series":"2023/2024","line":"2023/2024"},
{"date":"2023-03-30","swe":388,"series":"2023/2024","line":"2023/2024"},
{"date":"2023-03-31","swe":375,"series":"2023/2024","line":"2023/2024"},
{"date":"2023-04-01","swe":365,"series":"2023/2024","line":"2023/2024"}
]},
"encoding": {
  "x": {"field": "date", "type": "temporal",
    "scale": {"type": "utc", "domain": [{"year": 2022, "month": "Nov", "date": 1, "utc": true}, {"year": 2023, "month": "Jul", "date": 26, "hours": 11, "utc": true}]},
    "axis": {
      "values": [
        {"year": 2022, "month": "Nov", "date": 1, "utc": true},
        {"year": 2022, "month": "Nov", "date": 15, "utc": true},
        {"year": 2022, "month": "Nov", "date": 29, "utc": true},
        {"year": 2022, "month": "Dec", "date": 13, "utc": true},
        {"year": 2022, "month": "Dec", "date": 27, "utc": true},
        {"year": 2023, "month": "Jan", "date": 10, "utc": true},
        {"year": 2023, "month": "Jan", "date": 24, "utc": true},
        {"year": 2023, "month": "Feb", "date": 7, "utc": true},
        {"year": 2023, "month": "Feb", "date": 21, "utc": true},
        {"year": 2023, "month": "Mar", "date": 7, "utc": true},
        {"year": 2023, "month": "Mar", "date": 21, "utc": true},
        {"year": 2023, "month": "Apr", "date": 4, "utc": true},
        {"year": 2023, "month": "Apr", "date": 18, "utc": true},
        {"year": 2023, "month": "May", "date": 2, "utc": true},
        {"year": 2023, "month": "May", "date": 16, "utc": true},
        {"year": 2023, "month": "May", "date": 30, "utc": true},
        {"year": 2023, "month": "Jun", "date": 13, "utc": true},
        {"year": 2023, "month": "Jun", "date": 27, "utc": true},
        {"year": 2023, "month": "Jul", "date": 11, "utc": true},
        {"year": 2023, "month": "Jul", "date": 25, "utc": true}
      ],
      "format": "%d-%b", "title": null, "labelAngle": 270,
      "labelFont": "Open Sans", "labelFontSize": 24, "labelColor": "#000000", "labelPadding": 11,
      "labelFlush": false, "labelOverlap": false, "labelBound": false,
      "tickSize": 8, "tickColor": "#404040", "tickWidth": 1.5,
      "domainColor": "#000000", "domainWidth": 2.5,
      "grid": true, "gridColor": "#c8c8c8", "gridDash": [6, 4], "gridWidth": 1
    }
  },
  "y": {"field": "swe", "type": "quantitative",
    "scale": {"domain": [0, 800], "nice": false, "zero": true},
    "axis": {
      "values": [0, 100, 200, 300, 400, 500, 600, 700, 800],
      "title": "Snow Water Equivalent (SWE)\u00a0 -\u00a0 mm",
      "titleFont": "Open Sans", "titleFontSize": 27, "titleFontWeight": "bold", "titleColor": "#000000",
      "titleX": -112, "titleY": 343, "titleAngle": 270, "titleAlign": "center", "titleBaseline": "middle",
      "labelFont": "Open Sans", "labelFontSize": 24, "labelColor": "#000000", "labelPadding": 18,
      "labelFlush": false, "labelOverlap": false,
      "tickSize": 9, "tickColor": "#808080", "tickWidth": 2,
      "domainColor": "#000000", "domainWidth": 2.5,
      "grid": true, "gridColor": "#c8c8c8", "gridDash": [8, 3, 2, 3], "gridWidth": 1
    }
  },
  "color": {"field": "series", "type": "nominal",
    "scale": {"domain": ["Quartiles", "2000/2001\u00a0 (Dry Year)", "2022/2023", "2023/2024"], "range": ["#000000", "#00ff00", "#00b0f0", "#ff0000"]},
    "legend": {
      "title": ["\u00a0", "\u00a0", "\u00a0"], "titleOrient": "left", "titleFontSize": 4, "titleLineHeight": 30, "titleAnchor": "start", "titlePadding": 125,
      "orient": "none", "legendX": 74, "legendY": 933, "direction": "horizontal",
      "padding": 0, "strokeColor": "#595959", "fillColor": "#ffffff",
      "symbolType": "stroke", "symbolSize": 2900,
      "labelFont": "Open Sans", "labelFontSize": 21, "labelColor": "#000000", "labelOffset": 3,
      "columnPadding": 122, "labelLimit": 0,
      "labelExpr": "datum.label === '2023/2024' ? datum.label + '\u2800\u2800\u2800\u2800\u2800\u2800\u2800\u2800' : datum.label",
      "encode": {"symbols": {"update": {"strokeCap": {"value": "round"}}}}
    }
  },
  "strokeWidth": {"field": "series", "type": "nominal",
    "scale": {"type": "ordinal", "domain": ["Quartiles", "2000/2001\u00a0 (Dry Year)", "2022/2023", "2023/2024"], "range": [5, 2.5, 2.5, 6.5]}
  },
  "detail": {"field": "line", "type": "nominal"}
},
"layer": [
  {"transform": [{"filter": "datum.series === 'Quartiles'"}], "mark": {"type": "line", "strokeCap": "round", "strokeJoin": "round", "clip": true}},
  {"transform": [{"filter": "datum.line === '2000/2001'"}], "mark": {"type": "line", "strokeCap": "round", "strokeJoin": "round", "clip": true}},
  {"transform": [{"filter": "datum.line === '2022/2023'"}], "mark": {"type": "line", "strokeCap": "round", "strokeJoin": "round", "clip": true}},
  {"transform": [{"filter": "datum.line === '2023/2024'"}], "mark": {"type": "line", "strokeCap": "round", "strokeJoin": "round", "clip": true}}
]
},
{
  "data": {"values": [{}]},
  "mark": {"type": "rule", "color": "#000000", "strokeWidth": 2.5},
  "encoding": {"y": {"datum": 800, "type": "quantitative"}}
}
]
}
